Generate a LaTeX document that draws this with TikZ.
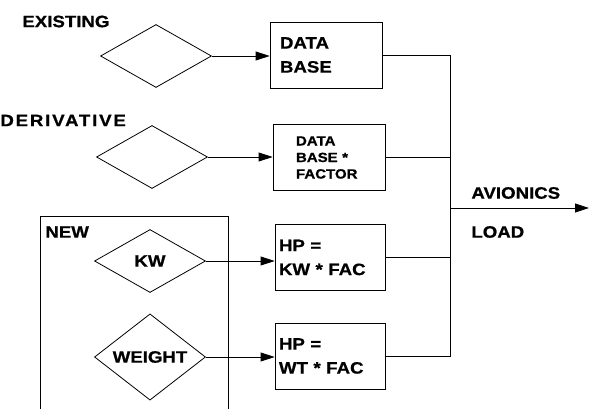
\documentclass[tikz,border=0pt]{standalone}
\usepackage{fontspec}
\newfontfamily\diafont[FakeStretch=1.13,FakeBold=0.8]{Liberation Sans}
\usetikzlibrary{shapes.geometric,arrows.meta}
\begin{document}
\begin{tikzpicture}[x=1pt,y=-1pt,>={Triangle[length=14pt,width=9pt]},line width=0.8pt,
	  diam/.style={draw,diamond,minimum width=111pt,minimum height=63pt,inner sep=0pt,
	    font=\diafont\bfseries\fontsize{16.5}{24}\selectfont},
	  dbox/.style={draw,rectangle,align=left,minimum height=66pt,inner ysep=0pt,
	    font=\diafont\bfseries\fontsize{16.5}{24}\selectfont},
	  lbl/.style={anchor=west,inner sep=0pt,font=\diafont\bfseries\fontsize{16.5}{24}\selectfont}]
	  \useasboundingbox (0,0) rectangle (590,409);
	  % sources
	  \node[lbl] (ex) at (22,21.5) {EXISTING};
	  \node[lbl,font=\diafont\bfseries\fontsize{16.5}{24}\selectfont\addfontfeature{LetterSpace=11}]
	    (der) at (0,120.5) {DERIVATIVE};
	  \node[lbl] (nw) at (45,232) {NEW};
	  \draw (40,409) -- (40,216) -- (228,216) -- (228,409);
	  \node[diam] (d1) at (156,56) {};
	  \node[diam] (d2) at (152,157) {};
	  \node[diam] (d3) at (150,261) {KW};
	  \node[diam] (d4) at (150,357) {WEIGHT};
	  % computations
	  \node[dbox,inner xsep=10pt,text width=92pt] (b1) at (326,55) {DATA\\BASE};
	  \node[dbox,inner xsep=23pt,text width=66pt,
	    font=\diafont\bfseries\fontsize{13.3}{16.5}\selectfont] (b2) at (329,157.5) {DATA\\BASE *\\FACTOR};
	  \node[dbox,inner xsep=4pt,text width=102pt] (b3) at (330,257.5) {HP =\\KW * FAC};
	  \node[dbox,inner xsep=4pt,text width=102pt] (b4) at (330,356) {HP =\\WT * FAC};
	  \draw[->] (d1.east) -- (d1.east -| b1.west);
	  \draw[->] (d2.east) -- (d2.east -| b2.west);
	  \draw[->] (d3.east) -- (d3.east -| b3.west);
	  \draw[->] (d4.east) -- (d4.east -| b4.west);
	  % summing bus
	  \coordinate (jt) at (450,208);
	  \coordinate (out) at (589,208);
	  \draw (b1.east) -| (jt);
	  \draw (b2.east) -| (jt);
	  \draw (b3.east) -| (jt);
	  \draw (b4.east) -| (jt);
	  \draw[->] (jt) -- (out);
	  \node[lbl] (avi) at (471,193) {AVIONICS};
	  \node[lbl] (load) at (471,232) {LOAD};
	\end{tikzpicture}
\end{document}
